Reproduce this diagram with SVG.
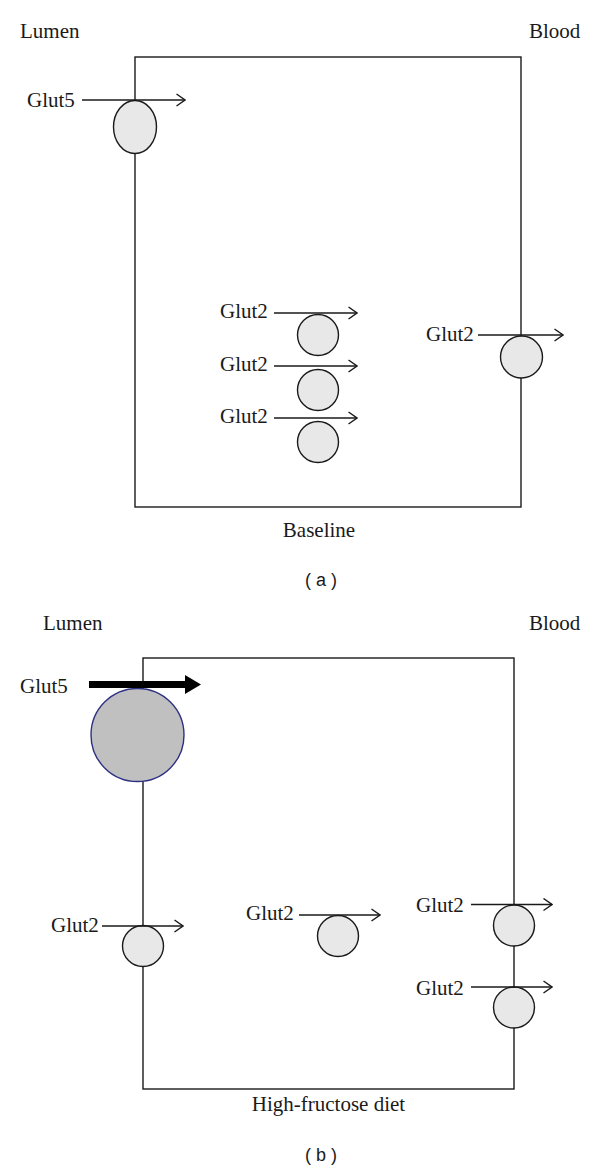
<svg xmlns="http://www.w3.org/2000/svg" width="600" height="1170" viewBox="0 0 600 1170">
<style>
.t{font-family:"Liberation Serif","Times New Roman",serif;font-size:21px;fill:#1a1a1a}
.c{font-family:"Liberation Sans",Arial,sans-serif;font-size:18px;fill:#1a1a1a}
.box{fill:none;stroke:#1a1a1a;stroke-width:1.4}
.tr{fill:#e8e8e8;stroke:#1a1a1a;stroke-width:1.4}
.ar{fill:none;stroke:#1a1a1a;stroke-width:1.4;marker-end:url(#h)}
</style>
<defs>
<marker id="h" viewBox="0 0 10 14" refX="9.5" refY="7" markerWidth="10" markerHeight="14" markerUnits="userSpaceOnUse" orient="auto">
<path d="M1,1 L9.5,7 L1,13" fill="none" stroke="#1a1a1a" stroke-width="1.4"/>
</marker>
</defs>
<rect width="600" height="1170" fill="#fff"/>

<!-- Panel a -->
<g id="panel-a">
<rect class="box" x="135" y="57" width="386" height="450"/>
<text class="t" x="20" y="38">Lumen</text>
<text class="t" x="529" y="38">Blood</text>
<text class="t" x="319" y="537" text-anchor="middle">Baseline</text>
<text class="c" x="321" y="586" text-anchor="middle">( a )</text>
</g>
<g id="a-glut5"><ellipse class="tr" cx="135" cy="127" rx="21.5" ry="26.5"/><text class="t" x="27" y="107">Glut5</text></g>
<g id="a-glut2-1"><circle class="tr" cx="318" cy="335" r="20.5"/><text class="t" x="220" y="318">Glut2</text></g>
<g id="a-glut2-2"><circle class="tr" cx="318" cy="390" r="20.5"/><text class="t" x="220" y="371">Glut2</text></g>
<g id="a-glut2-3"><circle class="tr" cx="318" cy="442" r="20.5"/><text class="t" x="220" y="423">Glut2</text></g>
<g id="a-glut2-4"><circle class="tr" cx="521.5" cy="357" r="21"/><text class="t" x="426" y="341">Glut2</text></g>

<!-- Panel b -->
<g id="panel-b">
<rect class="box" x="143" y="658" width="371" height="431"/>
<text class="t" x="43" y="630">Lumen</text>
<text class="t" x="529" y="630">Blood</text>
<text class="t" x="328.5" y="1111" text-anchor="middle">High-fructose diet</text>
<text class="c" x="321" y="1161" text-anchor="middle">( b )</text>
</g>
<g id="b-glut5"><circle cx="137.5" cy="735" r="46.5" fill="#c0c0c0" stroke="#2e3183" stroke-width="1.4"/><text class="t" x="20" y="693">Glut5</text></g>
<g id="b-glut2-1"><circle class="tr" cx="143" cy="946" r="20.5"/><text class="t" x="51" y="932">Glut2</text></g>
<g id="b-glut2-2"><circle class="tr" cx="338" cy="936" r="20.5"/><text class="t" x="246" y="920">Glut2</text></g>
<g id="b-glut2-3"><circle class="tr" cx="514" cy="925.5" r="20.5"/><text class="t" x="416" y="912">Glut2</text></g>
<g id="b-glut2-4"><circle class="tr" cx="514" cy="1007.5" r="20.5"/><text class="t" x="416" y="995">Glut2</text></g>

<g id="connectors">
<line class="ar" x1="82" y1="100" x2="185" y2="100"/>
<line class="ar" x1="274" y1="313" x2="357" y2="313"/>
<line class="ar" x1="274" y1="366" x2="357" y2="366"/>
<line class="ar" x1="274" y1="418" x2="357" y2="418"/>
<line class="ar" x1="478" y1="335" x2="563" y2="335"/>
<polygon points="89,681 185,681 185,675 201,684.5 185,694 185,688 89,688" fill="#000"/>
<line class="ar" x1="102" y1="926" x2="183" y2="926"/>
<line class="ar" x1="299" y1="915" x2="380" y2="915"/>
<line class="ar" x1="471" y1="904.5" x2="552" y2="904.5"/>
<line class="ar" x1="471" y1="987" x2="552" y2="987"/>
</g>
</svg>
